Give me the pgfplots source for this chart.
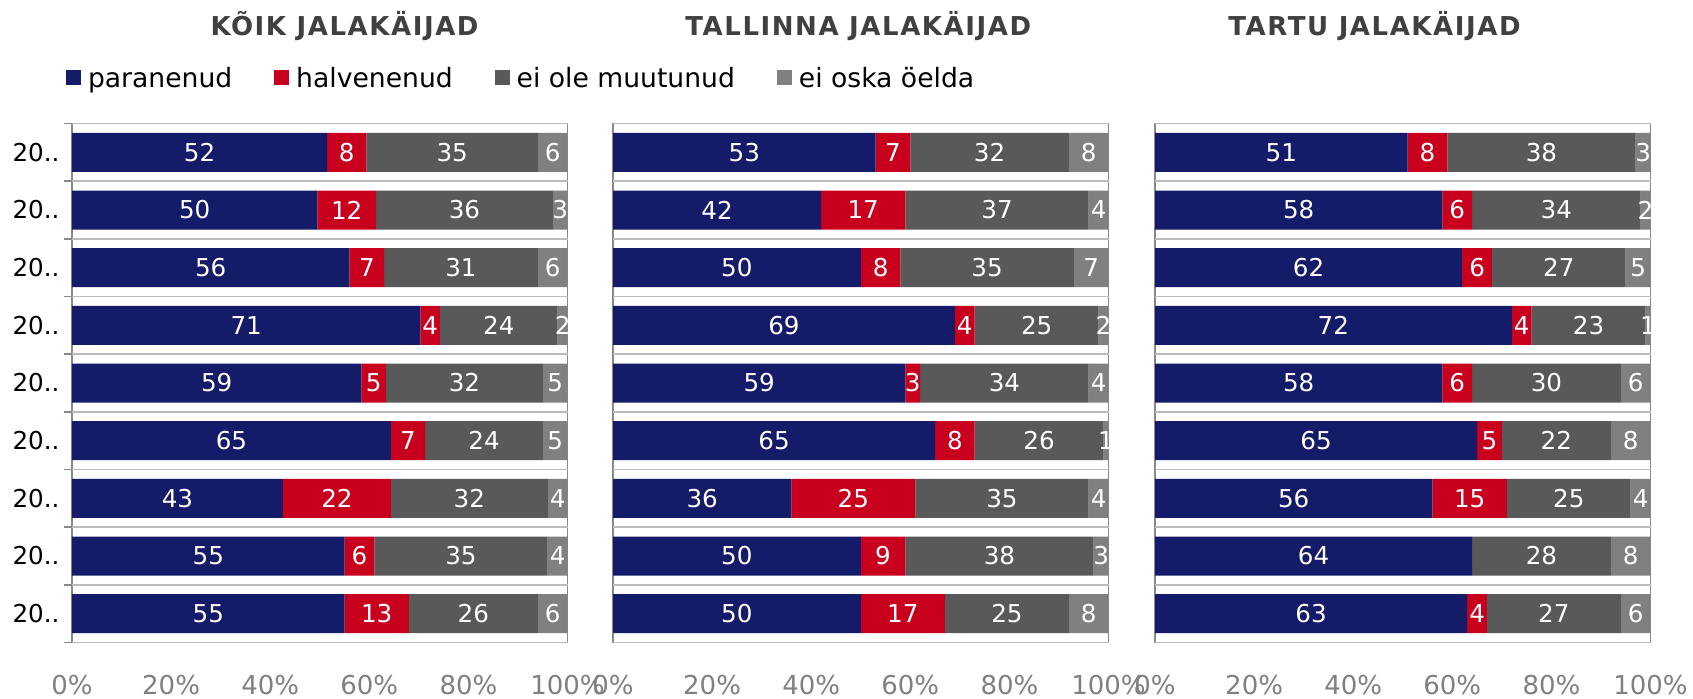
\documentclass[border=0pt]{standalone}
\usepackage{fontspec}
\setmainfont{DejaVu Sans}
\newfontfamily\titlefont[LetterSpace=6]{DejaVu Sans}
\usepackage{pgfplots}
\usepackage{pgfplotstable}
\pgfplotsset{compat=1.18}

\definecolor{cA}{HTML}{141B68}
\definecolor{cB}{HTML}{C8001E}
\definecolor{cC}{HTML}{595959}
\definecolor{cD}{HTML}{808080}
\definecolor{frameg}{HTML}{898989}
\definecolor{gridg}{HTML}{BBBBBB}
\definecolor{tickg}{HTML}{808080}
\definecolor{titleg}{HTML}{404040}

% KOIK JALAKAIJAD
\pgfplotstableread{
r a b c d
0 52 8 35 6
1 50 12 36 3
2 56 7 31 6
3 71 4 24 2
4 59 5 32 5
5 65 7 24 5
6 43 22 32 4
7 55 6 35 4
8 55 13 26 6
}\tkoik
% TALLINNA JALAKAIJAD
\pgfplotstableread{
r a b c d
0 53 7 32 8
1 42 17 37 4
2 50 8 35 7
3 69 4 25 2
4 59 3 34 4
5 65 8 26 1
6 36 25 35 4
7 50 9 38 3
8 50 17 25 8
}\ttallinn
% TARTU JALAKAIJAD
\pgfplotstableread{
r a b c d
0 51 8 38 3
1 58 6 34 2
2 62 6 27 5
3 72 4 23 1
4 58 6 30 6
5 65 5 22 8
6 56 15 25 4
7 64 0 28 8
8 63 4 27 6
}\ttartu

\newcommand\rs{(\thisrow{a}+\thisrow{b}+\thisrow{c}+\thisrow{d})}

\pgfplotsset{
 base/.style={scale only axis, width=247.75pt, height=259.5pt,
   xmin=0, xmax=100, ymin=-0.5, ymax=8.5, y dir=reverse, anchor=north west},
 panel/.style={base, xbar stacked, bar width=19.5pt,
   axis line style={draw=frameg, line width=0.75pt},
   ytick={0,...,8}, ytick style={draw=none}, ytick pos=left,
   yticklabel style={font=\fontsize{12.3}{12.3}\selectfont, text=black, xshift=-2.7pt},
   extra y ticks={-0.5,0.5,...,8.5}, extra y tick labels={},
   xtick={0,20,40,60,80,100}, xticklabels={0\%,20\%,40\%,60\%,80\%,100\%},
   xtick style={draw=none},
   xticklabel style={font=\fontsize{13}{13}\selectfont, text=tickg, anchor=base, yshift=-26pt},
   title style={font=\titlefont\bfseries\fontsize{13}{13}\selectfont, text=titleg, anchor=base, yshift=38.25pt},
 },
 withlab/.style={yticklabel={20..},
   extra y tick style={grid=major, major grid style={draw=gridg, line width=0.75pt},
     ytick style={draw=frameg, line width=0.75pt}, major tick length=4pt, tick align=outside}},
 nolab/.style={yticklabels={},
   extra y tick style={grid=major, major grid style={draw=gridg, line width=0.75pt},
     major tick length=0pt}},
 lab/.style={base, hide axis,
   nodes near coords={\ifnum\pgfplotspointmeta=0 \else\pgfplotspointmeta\fi},
   every node near coord/.style={anchor=center, text=white, font=\fontsize{12.3}{12.3}\selectfont, inner sep=0pt},
 },
}

\newcommand\bars[1]{%
  \addplot[fill=cA, draw=none] table[x expr=100*\thisrow{a}/\rs, y=r]{#1};
  \addplot[fill=cB, draw=none] table[x expr=100*\thisrow{b}/\rs, y=r]{#1};
  \addplot[fill=cC, draw=none] table[x expr=100*\thisrow{c}/\rs, y=r]{#1};
  \addplot[fill=cD, draw=none] table[x expr=100*\thisrow{d}/\rs, y=r]{#1};
}
\newcommand\labs[1]{%
  \addplot[draw=none, mark=none, point meta=explicit symbolic] table[x expr=50*\thisrow{a}/\rs, y=r, meta=a]{#1};
  \addplot[draw=none, mark=none, point meta=explicit symbolic] table[x expr=100*(\thisrow{a}+0.5*\thisrow{b})/\rs, y=r, meta=b]{#1};
  \addplot[draw=none, mark=none, point meta=explicit symbolic] table[x expr=100*(\thisrow{a}+\thisrow{b}+0.5*\thisrow{c})/\rs, y=r, meta=c]{#1};
  \addplot[draw=none, mark=none, point meta=explicit symbolic] table[x expr=100*(\thisrow{a}+\thisrow{b}+\thisrow{c}+0.5*\thisrow{d})/\rs, y=r, meta=d]{#1};
}

\begin{document}
\begin{tikzpicture}
\path[use as bounding box] (0pt,0pt) rectangle (846.5pt,349pt);

% Panel 1
\begin{axis}[panel, withlab, at={(36pt,287.25pt)},
  title={KÕIK JALAKÄIJAD}, title style={at={(axis description cs:0.55,1)}},
  legend columns=4,
  legend style={draw=none, fill=none, inner sep=0pt, outer sep=0pt,
    at={(axis description cs:-0.0121,1.0838)}, anchor=west,
    font=\fontsize{13.3}{13.3}\selectfont,
    nodes={inner sep=0pt, text height=10pt, text depth=3pt},
    /tikz/every odd column/.append style={column sep=3.5pt},
    /tikz/every even column/.append style={column sep=21pt}},
  legend image code/.code={\path[#1] (0pt,-2.5pt) rectangle (7.5pt,5pt);},
]
\bars{\tkoik}
\legend{paranenud,halvenenud,ei ole muutunud,ei oska öelda}
\end{axis}
\begin{axis}[lab, at={(36pt,287.25pt)}]
\labs{\tkoik}
\end{axis}

% Panel 2
\begin{axis}[panel, nolab, at={(306.5pt,287.25pt)},
  title={TALLINNA JALAKÄIJAD}, title style={at={(axis description cs:0.495,1)}}]
\bars{\ttallinn}
\end{axis}
\begin{axis}[lab, at={(306.5pt,287.25pt)}]
\labs{\ttallinn}
\end{axis}

% Panel 3
\begin{axis}[panel, nolab, at={(577.5pt,287.25pt)},
  title={TARTU JALAKÄIJAD}, title style={at={(axis description cs:0.443,1)}}]
\bars{\ttartu}
\end{axis}
\begin{axis}[lab, at={(577.5pt,287.25pt)}]
\labs{\ttartu}
\end{axis}
\end{tikzpicture}
\end{document}
